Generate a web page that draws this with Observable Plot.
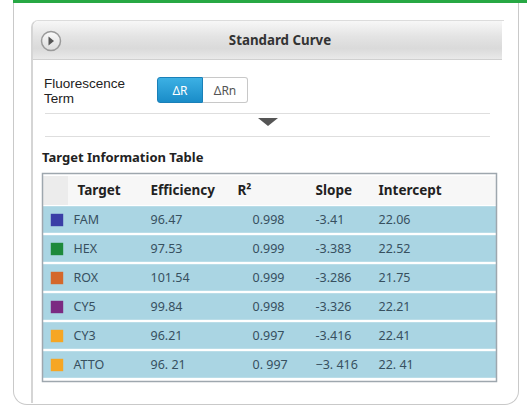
<!DOCTYPE html>
<html><head><meta charset="utf-8">
<script src="https://cdn.jsdelivr.net/npm/d3@7"></script>
<script src="https://cdn.jsdelivr.net/npm/@observablehq/plot@0.6"></script>
<style>
body{margin:0;width:527px;height:406px;background:#fff;position:relative;overflow:hidden;font-family:"Noto Sans",sans-serif;}
.abs{position:absolute;}
#green{left:13px;top:0;width:514px;height:3px;background:#27a844;}
#outer{left:13px;top:0;width:506px;height:405px;border:1px solid #c9c9c9;border-top:none;border-radius:0 0 14px 14px;box-sizing:border-box;}
#panel{left:31px;top:20px;width:471px;height:382px;border-left:2px solid #d5d5d5;border-top:1px solid #dcdcdc;border-top-left-radius:7px;}
#hdr{left:33px;top:21px;width:469px;height:38px;background:linear-gradient(#f7f7f7,#e4e4e4 40%,#dadada 72%,#e9e9e9);border-bottom:1px solid #d0d0d0;border-top-left-radius:6px;}
#title{left:33px;top:21px;width:494px;height:38px;line-height:38px;text-align:center;font-weight:bold;font-size:13.3px;color:#333;}
#icon{left:40px;top:30px;}
.fl{left:44px;font-family:"Liberation Sans",sans-serif;font-size:13.5px;line-height:15.5px;height:15.5px;color:#222;}
#tog{left:157px;top:77px;height:26px;display:flex;font-size:12px;}
#tog .a{width:46px;height:26px;line-height:26px;text-align:center;color:#fff;background:linear-gradient(#3cb0e4,#1a8cc8);border:1px solid #1a80b8;border-radius:3px 0 0 3px;box-sizing:border-box;}
#tog .b{width:45px;height:26px;line-height:26px;text-align:center;color:#555;background:#fff;border:1px solid #c8c8c8;border-left:none;border-radius:0 3px 3px 0;box-sizing:border-box;}
.hl{left:45px;width:445px;height:1px;background:#dedede;}
#tri{left:258px;top:118px;width:0;height:0;border-left:10px solid transparent;border-right:10px solid transparent;border-top:8px solid #555;}
#tt{left:42px;top:148px;font-size:13px;font-weight:bold;color:#222;}
#table{left:42px;top:173px;}
</style></head>
<body>
<div class="abs" id="outer"></div>
<div class="abs" id="green"></div>
<div class="abs" id="panel"></div>
<div class="abs" id="hdr"></div>
<div class="abs" id="title">Standard Curve</div>
<svg class="abs" id="icon" width="22" height="22"><defs><linearGradient id="g" x1="0" y1="0" x2="0" y2="1"><stop offset="0" stop-color="#fafafa"/><stop offset="1" stop-color="#dcdcdc"/></linearGradient></defs><circle cx="11" cy="11" r="9.5" fill="url(#g)" stroke="#9a9a9a" stroke-width="1.5"/><path d="M8.5 6.5 L14 11 L8.5 15.5 Z" fill="#555"/></svg>
<div class="abs fl" style="top:75.5px">Fluorescence</div>
<div class="abs fl" style="top:91px">Term</div>
<div class="abs" id="tog"><div class="a">ΔR</div><div class="b">ΔRn</div></div>
<div class="abs hl" style="top:113px"></div>
<div class="abs" id="tri"></div>
<div class="abs hl" style="top:136px"></div>
<div class="abs" id="tt">Target Information Table</div>
<div class="abs" id="table"></div>
<script>
// ---- data ----
const targets = ["FAM","HEX","ROX","CY5","CY3","ATTO"];
const swatchColors = ["#3a3ea6","#1e8a3c","#d4682c","#7b2a82","#f6a623","#f6a623"];
const efficiency = ["96.47","97.53","101.54","99.84","96.21","96. 21"];
const r2 = ["0.998","0.999","0.999","0.998","0.997","0. 997"];
const slope = ["-3.41","-3.383","-3.286","-3.326","-3.416","−3. 416"];
const intercept = ["22.06","22.52","21.75","22.21","22.41","22. 41"];
const headers = ["Target","Efficiency","R²","Slope","Intercept"];

// ---- layout ----
const W = 454, H = 208;
const headerX = [35,108,195,273,336];
const valueX = [31,108,210,273,336];
const sepX = [26,103,190,265,328,425];
const swatchX = 14.5;

const cells = [];
targets.forEach((t,i)=>{
  [t, efficiency[i], r2[i], slope[i], intercept[i]].forEach((v,j)=>cells.push({row:t, col:j, text:v}));
});
const hcells = headers.map((h,j)=>({row:"header", col:j, text:h}));

const chart = Plot.plot({
  width: W, height: H, margin: 0,
  style: {fontFamily: "Noto Sans", background: "transparent", overflow: "visible"},
  x: {domain: [0, W], range: [0, W], axis: null},
  y: {type: "band", domain: ["header", ...targets], range: [0, H], padding: 0, axis: null},
  color: {domain: targets, range: swatchColors},
  marks: [
    Plot.barX(["header"], {x1: 0, x2: W, y: d => d, fill: "#f7f7f7"}),
    Plot.barX(["header"], {x1: 0, x2: sepX[0], y: d => d, fill: "#ececec"}),
    Plot.ruleX(sepX, {x: d => d, y: () => "header", stroke: "#d6d6d6"}),
    Plot.barX(targets, {x1: 0, x2: W, y: d => d, fill: "#aad5e3", insetTop: 1.2, insetBottom: 1.2}),
    Plot.dot(targets, {x: swatchX, y: d => d, symbol: "square", r: 7, fill: d => d}),
    Plot.text(hcells, {x: d => headerX[d.col], y: d => d.row, text: "text", textAnchor: "start", fontSize: 13.5, fontWeight: "bold", fill: "#222"}),
    Plot.text(cells, {x: d => valueX[d.col], y: d => d.row, text: "text", textAnchor: "start", fontSize: 12.5, fill: "#37505f"}),
    Plot.frame({stroke: "#9ea7ae", strokeWidth: 1.5})
  ]
});
document.getElementById("table").appendChild(chart);
</script>
</body></html>
